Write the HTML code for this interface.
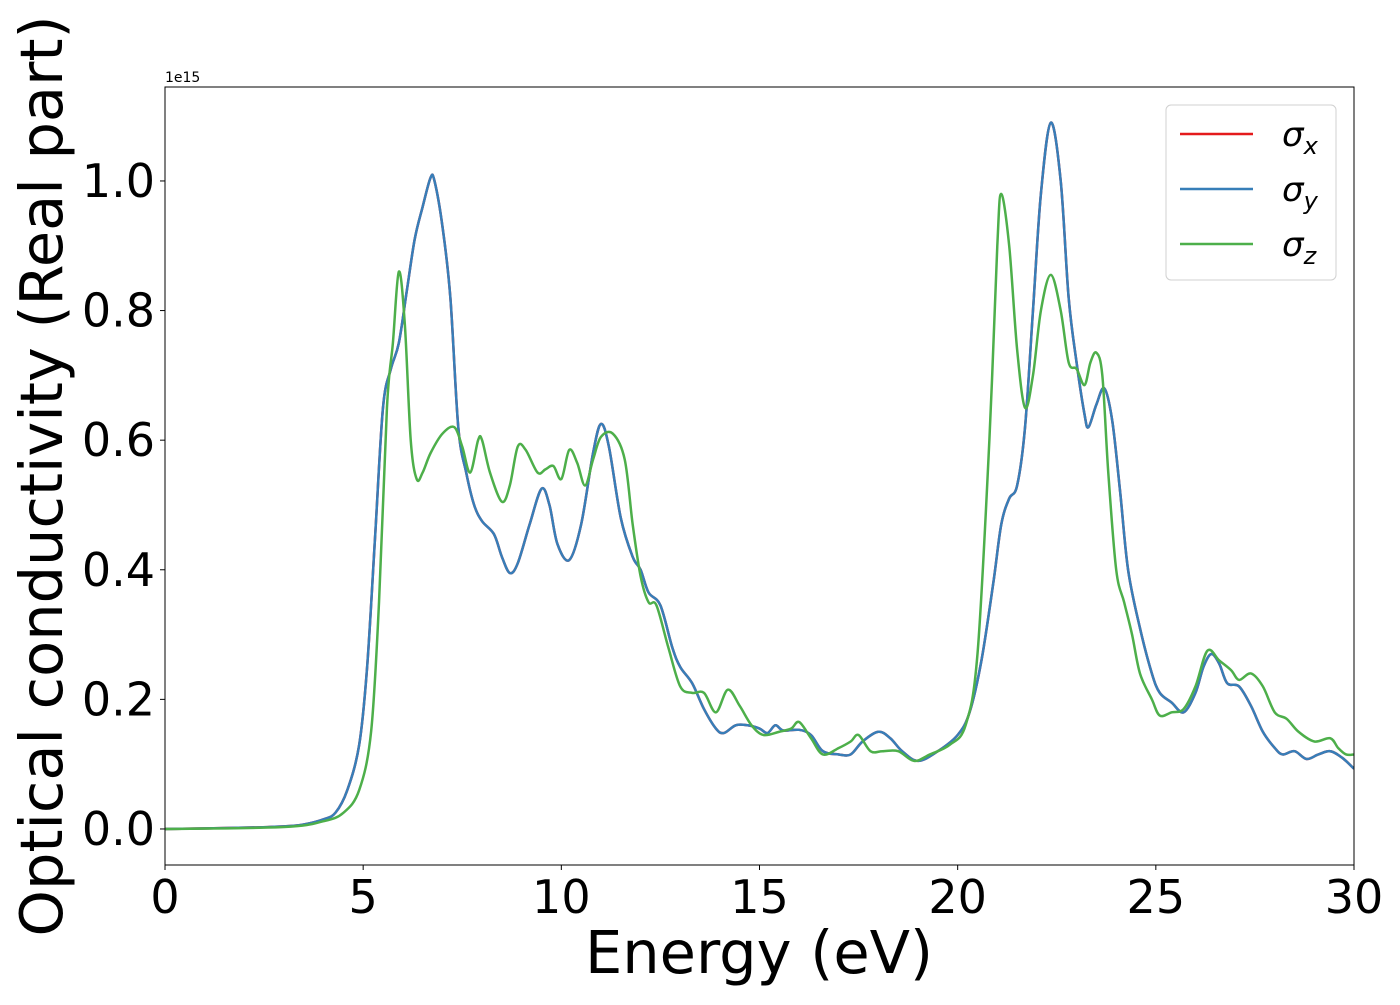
<!DOCTYPE html>
<html><head><meta charset="utf-8"><style>
html,body{margin:0;padding:0;background:#fff;}
svg text{font-family:"DejaVu Sans","Liberation Sans",sans-serif;}
</style></head><body>
<svg id="chart" width="1400" height="1000" xmlns="http://www.w3.org/2000/svg">
<rect width="1400" height="1000" fill="#fff"/>
<g id="plot"></g>
</svg>
<script>
const xTicks=[0,5,10,15,20,25,30];
const yTicks=[0.0,0.2,0.4,0.6,0.8,1.0];
const yTickLabels=["0.0","0.2","0.4","0.6","0.8","1.0"];
const energyXY=[0,2,3,3.5,4,4.3,4.6,4.9,5.1,5.3,5.5,5.7,5.9,6.1,6.3,6.5,6.7,6.8,7.0,7.2,7.4,7.6,7.8,8.0,8.3,8.5,8.7,8.9,9.2,9.5,9.7,9.9,10.2,10.5,10.8,11.0,11.2,11.5,11.8,12.0,12.2,12.5,12.8,13.0,13.3,13.6,13.9,14.1,14.4,14.7,15,15.2,15.4,15.6,16,16.3,16.6,17,17.3,17.6,18,18.3,18.6,19,19.5,20,20.3,20.6,20.9,21.1,21.3,21.5,21.7,21.9,22.1,22.35,22.6,22.8,23.0,23.2,23.3,23.5,23.7,23.9,24.1,24.3,24.6,24.9,25.1,25.4,25.7,26.0,26.2,26.4,26.6,26.8,27.1,27.4,27.7,28,28.2,28.5,28.8,29.1,29.4,29.7,30];
const sigmaX=[0,0.002,0.004,0.007,0.015,0.025,0.06,0.13,0.25,0.45,0.65,0.71,0.75,0.83,0.91,0.96,1.005,1.0,0.93,0.82,0.62,0.55,0.50,0.475,0.455,0.42,0.395,0.41,0.47,0.525,0.50,0.44,0.415,0.47,0.58,0.625,0.59,0.48,0.42,0.40,0.365,0.345,0.28,0.25,0.225,0.185,0.155,0.148,0.16,0.16,0.155,0.148,0.16,0.152,0.153,0.145,0.12,0.115,0.115,0.135,0.15,0.14,0.12,0.105,0.12,0.145,0.18,0.26,0.38,0.47,0.51,0.53,0.62,0.80,0.98,1.09,1.0,0.82,0.72,0.64,0.62,0.655,0.68,0.63,0.52,0.40,0.31,0.24,0.21,0.195,0.18,0.21,0.25,0.27,0.255,0.225,0.22,0.19,0.15,0.125,0.115,0.12,0.108,0.115,0.12,0.11,0.093];
const sigmaY=sigmaX.slice();
const energyZ=[0,3,4,4.5,4.9,5.2,5.4,5.6,5.75,5.9,6.05,6.2,6.35,6.5,6.7,7.0,7.3,7.5,7.7,7.9,8.0,8.2,8.5,8.7,8.9,9.1,9.4,9.6,9.8,10.0,10.2,10.4,10.6,10.8,11.0,11.3,11.6,11.8,12.0,12.2,12.4,12.7,13.0,13.3,13.6,13.9,14.2,14.5,14.8,15.1,15.5,15.8,16.0,16.3,16.6,17,17.3,17.5,17.8,18.1,18.5,18.9,19.3,19.8,20.2,20.5,20.8,21.0,21.1,21.3,21.5,21.7,21.9,22.1,22.35,22.6,22.8,23.0,23.2,23.35,23.5,23.65,23.8,24.0,24.2,24.4,24.6,24.9,25.1,25.4,25.7,26.0,26.3,26.6,26.9,27.1,27.4,27.7,28.0,28.3,28.6,29.0,29.4,29.6,29.8,30];
const sigmaZ=[0,0.003,0.012,0.025,0.06,0.15,0.35,0.65,0.75,0.86,0.78,0.6,0.54,0.55,0.58,0.61,0.62,0.59,0.55,0.60,0.60,0.55,0.505,0.53,0.59,0.585,0.55,0.555,0.56,0.54,0.585,0.565,0.53,0.57,0.605,0.61,0.57,0.47,0.39,0.35,0.345,0.28,0.22,0.21,0.21,0.18,0.215,0.19,0.16,0.145,0.15,0.155,0.165,0.14,0.115,0.125,0.135,0.145,0.12,0.12,0.12,0.105,0.115,0.13,0.16,0.27,0.6,0.90,0.98,0.90,0.74,0.65,0.70,0.80,0.855,0.80,0.72,0.71,0.685,0.72,0.735,0.70,0.55,0.40,0.35,0.30,0.24,0.20,0.175,0.18,0.185,0.22,0.275,0.26,0.245,0.23,0.24,0.22,0.18,0.17,0.15,0.135,0.14,0.125,0.115,0.115];

const L=165,R=1354,T=87,B=865;
const xMin=0,xMax=30,yMin=-0.0556,yMax=1.145;
const sx=v=>L+(v-xMin)/(xMax-xMin)*(R-L);
const sy=v=>B-(v-yMin)/(yMax-yMin)*(B-T);
const NS="http://www.w3.org/2000/svg";
const g=document.getElementById('plot');
function mk(tag,attrs,parent){const e=document.createElementNS(NS,tag);for(const k in attrs)e.setAttribute(k,attrs[k]);(parent||g).appendChild(e);return e;}
function smoothPath(xs,ys){
  const p=xs.map((x,i)=>[sx(x),sy(ys[i])]);
  let d=`M${p[0][0]},${p[0][1]}`;
  for(let i=0;i<p.length-1;i++){
    const p0=p[Math.max(0,i-1)],p1=p[i],p2=p[i+1],p3=p[Math.min(p.length-1,i+2)];
    const c1=[p1[0]+(p2[0]-p0[0])/6,p1[1]+(p2[1]-p0[1])/6];
    const c2=[p2[0]-(p3[0]-p1[0])/6,p2[1]-(p3[1]-p1[1])/6];
    d+=` C${c1[0]},${c1[1]} ${c2[0]},${c2[1]} ${p2[0]},${p2[1]}`;
  }
  return d;
}
const cp=mk('clipPath',{id:'clip'});
mk('rect',{x:L,y:T,width:R-L,height:B-T},cp);

const series=[[energyXY,sigmaX,'#e41a1c','sigma-x-line'],[energyXY,sigmaY,'#377eb8','sigma-y-line'],[energyZ,sigmaZ,'#4daf4a','sigma-z-line']];
series.forEach(s=>{
  const p=mk('path',{d:smoothPath(s[0],s[1]),fill:'none',stroke:s[2],'stroke-width':2.5,'clip-path':'url(#clip)'});
  
  
});
const frame=mk('rect',{x:L,y:T,width:R-L,height:B-T,fill:'none',stroke:'#000','stroke-width':1});



xTicks.forEach(v=>{
  mk('line',{x1:sx(v),x2:sx(v),y1:B,y2:B+5,stroke:'#000'});
  const t=mk('text',{x:sx(v),y:913,'font-size':46,'text-anchor':'middle',fill:'#000'});
  t.textContent=v;
  
  
});
yTicks.forEach((v,i)=>{
  mk('line',{x1:L-5,x2:L,y1:sy(v),y2:sy(v),stroke:'#000'});
  const t=mk('text',{x:L-10,y:sy(v)+16,'font-size':46,'text-anchor':'end',fill:'#000'});
  t.textContent=yTickLabels[i];
  
  
});
const off=mk('text',{x:165,y:82,'font-size':14,fill:'#000'});off.textContent='1e15';


const xl=mk('text',{x:759,y:973,'font-size':59,'text-anchor':'middle',fill:'#000'});xl.textContent='Energy (eV)';


const yl=mk('text',{x:0,y:0,'font-size':59,'text-anchor':'middle',fill:'#000',transform:'translate(62,476) rotate(-90)'});yl.textContent='Optical conductivity (Real part)';



const lg=mk('g',{});


mk('rect',{x:1166,y:105,width:170,height:175,rx:5,fill:'#fff',stroke:'#ccc','stroke-width':1,opacity:0.9},lg);
const labs=['x','y','z'];
series.forEach((s,i)=>{
  const y=134+i*55;
  const e=mk('g',{},lg);
  
  
  mk('line',{x1:1180,x2:1253,y1:y,y2:y,stroke:s[2],'stroke-width':2.5},e);
  const t=mk('text',{x:1282,y:y+12,'font-size':34,'font-style':'italic',fill:'#000'},e);
  t.innerHTML='σ<tspan font-size="24" dy="8">'+labs[i]+'</tspan>';
});
</script>
</body></html>
